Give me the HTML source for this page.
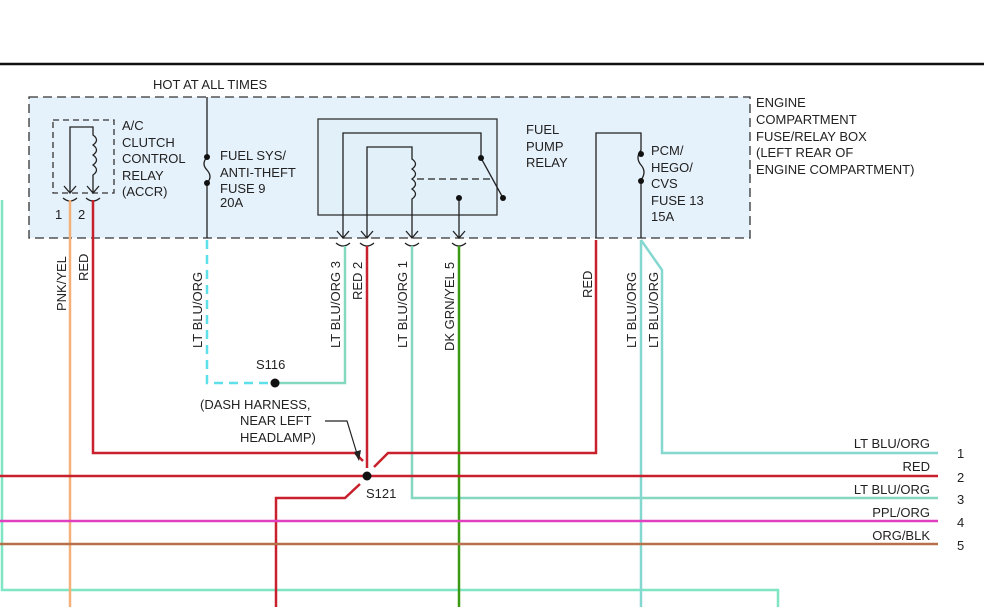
<!DOCTYPE html>
<html><head><meta charset="utf-8"><style>
html,body{margin:0;padding:0;background:#fff}
svg{display:block}
text{font-family:"Liberation Sans",sans-serif;font-size:13px;fill:#222}
</style></head><body>
<svg width="984" height="607" viewBox="0 0 984 607">
<line x1="0" y1="64" x2="984" y2="64" stroke="#111" stroke-width="2.5"/>
<!-- main box -->
<rect x="29" y="97" width="721" height="141" fill="#e6f2fb" stroke="#333" stroke-width="1.3" stroke-dasharray="9,5"/>
<text x="153" y="89">HOT AT ALL TIMES</text>
<g><text x="756" y="107">ENGINE</text><text x="756" y="124">COMPARTMENT</text><text x="756" y="141">FUSE/RELAY BOX</text><text x="756" y="157">(LEFT REAR OF</text><text x="756" y="174">ENGINE COMPARTMENT)</text></g>
<!-- AC relay -->
<rect x="53" y="120" width="61" height="73" fill="none" stroke="#333" stroke-width="1.3" stroke-dasharray="6,4"/>
<g fill="none" stroke="#222" stroke-width="1.3">
<path d="M70 193 V127 H93 V135 q7 5 0 10 q7 5 0 10 q7 5 0 10 q7 5 0 10 V193"/>
<path d="M64 186 L70 193 L76 186 M87 186 L93 193 L99 186"/>
<path d="M63 198 q7 6 14 0 M86 198 q7 6 14 0"/>
</g>
<text x="122" y="130">A/C</text><text x="122" y="147">CLUTCH</text><text x="122" y="163">CONTROL</text><text x="122" y="180">RELAY</text><text x="122" y="196">(ACCR)</text>
<text x="55" y="219">1</text><text x="78" y="219">2</text>
<!-- fuse 9 -->
<path d="M207 97 V157 q-6 7 0 13 q6 7 0 13 V238" fill="none" stroke="#222" stroke-width="1.3"/>
<circle cx="207" cy="157" r="3" fill="#111"/><circle cx="207" cy="183" r="3" fill="#111"/>
<text x="220" y="160">FUEL SYS/</text><text x="220" y="177">ANTI-THEFT</text><text x="220" y="193">FUSE 9</text><text x="220" y="207">20A</text>
<!-- fuel pump relay -->
<rect x="318" y="119" width="179" height="96" fill="#e2f0fa" stroke="#333" stroke-width="1.3"/>
<g fill="none" stroke="#222" stroke-width="1.3">
<path d="M343 238 V133 H481 V158 L503 198"/>
<path d="M367 238 V147 H412 V159 q7 5 0 10 q7 5 0 10 q7 5 0 10 q7 5 0 10 V238"/>
<path d="M417 179 H493" stroke-dasharray="7,4"/>
<path d="M459 198 V238"/>
<path d="M337 231 L343 238 L349 231 M361 231 L367 238 L373 231 M406 231 L412 238 L418 231 M453 231 L459 238 L465 231"/>
<path d="M336 243 q7 6 14 0 M360 243 q7 6 14 0 M405 243 q7 6 14 0 M452 243 q7 6 14 0"/>
<path d="M596 238 V133 H641 V150 q-6 8 0 15 q6 7 0 15 V238"/>
</g>
<circle cx="481" cy="158" r="3" fill="#111"/><circle cx="503" cy="198" r="3" fill="#111"/><circle cx="459" cy="198" r="3" fill="#111"/>
<circle cx="641" cy="154" r="3" fill="#111"/><circle cx="641" cy="181" r="3" fill="#111"/>
<text x="526" y="134">FUEL</text><text x="526" y="151">PUMP</text><text x="526" y="167">RELAY</text>
<text x="651" y="155">PCM/</text><text x="651" y="172">HEGO/</text><text x="651" y="188">CVS</text><text x="651" y="205">FUSE 13</text><text x="651" y="221">15A</text>
<!-- wires -->
<g fill="none" stroke-width="2.5">
<path d="M2 200 V590 H778 V607" stroke="#7ee6c4"/>
<path d="M70 200 V607" stroke="#f2b07a"/>
<path d="M93 200 V453 H355 L363 461" stroke="#c8202c"/>
<path d="M207 240 V383 H272" stroke="#5ee0ea" stroke-dasharray="9,6"/>
<path d="M278 383 H345 V246" stroke="#84d8c0"/>
<path d="M367 246 V468" stroke="#c8202c"/>
<path d="M412 246 V498 H938" stroke="#84d8c0"/>
<path d="M459 246 V607" stroke="#3a9a14"/>
<path d="M596 240 V453 H388 L374 467" stroke="#c8202c"/>
<path d="M641 240 V607" stroke="#84d8d0"/>
<path d="M641 240 L662 270 V453 H938" stroke="#84d8d0"/>
<path d="M0 476 H938" stroke="#c8202c"/>
<path d="M360 484 L345 498 H276 V607" stroke="#c8202c"/>
<path d="M0 521 H938" stroke="#e040c0"/>
<path d="M0 544 H938" stroke="#b8704a"/>
</g>
<circle cx="275" cy="383" r="4.5" fill="#111"/>
<circle cx="367" cy="476" r="4.5" fill="#111"/>
<text x="256" y="369">S116</text><text x="366" y="498">S121</text>
<text x="200" y="409">(DASH HARNESS,</text><text x="240" y="425">NEAR LEFT</text><text x="240" y="442">HEADLAMP)</text>
<path d="M325 421 H347 L358 457" fill="none" stroke="#222" stroke-width="1.2"/>
<path d="M354 452 L359 461 L361 450 Z" fill="#222"/>
<!-- rotated labels -->
<g>
<text transform="translate(66,311) rotate(-90)">PNK/YEL</text>
<text transform="translate(88,281) rotate(-90)">RED</text>
<text transform="translate(202,348) rotate(-90)">LT BLU/ORG</text>
<text transform="translate(340,348) rotate(-90)">LT BLU/ORG   3</text>
<text transform="translate(362,300) rotate(-90)">RED   2</text>
<text transform="translate(407,348) rotate(-90)">LT BLU/ORG   1</text>
<text transform="translate(454,351) rotate(-90)">DK GRN/YEL   5</text>
<text transform="translate(592,298) rotate(-90)">RED</text>
<text transform="translate(636,348) rotate(-90)">LT BLU/ORG</text>
<text transform="translate(658,348) rotate(-90)">LT BLU/ORG</text>
</g>
<g text-anchor="end"><text x="930" y="448">LT BLU/ORG</text><text x="930" y="471">RED</text><text x="930" y="494">LT BLU/ORG</text><text x="930" y="517">PPL/ORG</text><text x="930" y="540">ORG/BLK</text></g>
<text x="957" y="458">1</text><text x="957" y="482">2</text><text x="957" y="504">3</text><text x="957" y="527">4</text><text x="957" y="550">5</text>
</svg>
</body></html>
